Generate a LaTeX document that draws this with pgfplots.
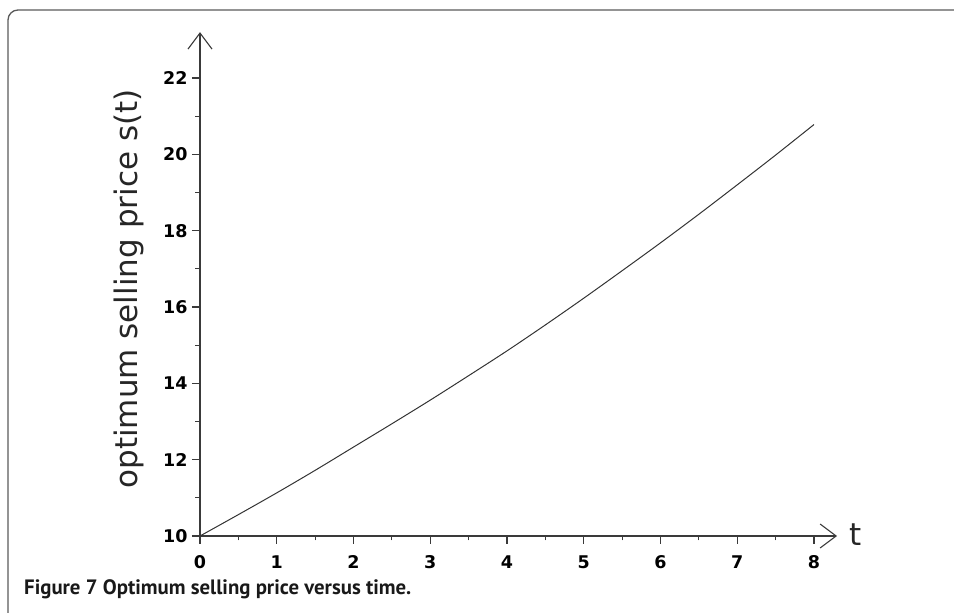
\documentclass[border=0pt]{standalone}
\usepackage{pgfplots}
\pgfplotsset{compat=1.18}
\usetikzlibrary{arrows.meta}
\usepackage{fontspec}
\setmainfont{DejaVu Sans}
\newfontfamily\tickfont{DejaVu Sans}
\newfontfamily\labelfont{DejaVu Sans}
\newfontfamily\capfont{PT Sans}
\definecolor{axisgray}{HTML}{3A3A3A}
\definecolor{framegray}{HTML}{5A5A5A}

% optimum selling price s(t) over time t
\pgfplotstableread{
t    s
0.0  10.00
0.5  10.56
1.0  11.13
1.5  11.72
2.0  12.33
2.5  12.94
3.0  13.56
3.5  14.20
4.0  14.85
4.5  15.53
5.0  16.23
5.5  16.95
6.0  17.68
6.5  18.43
7.0  19.20
7.5  19.98
8.0  20.78
}\pricedata

\begin{document}
\begin{tikzpicture}
\path[use as bounding box] (-200pt,-77pt) rectangle (754pt,536pt);
% surrounding frame with a rounded upper-left corner
\draw[framegray, line width=1.3pt, rounded corners=10pt]
  (-192pt,-80pt) -- (-192pt,526pt) -- (760pt,526pt);
\begin{axis}[
  at={(0,0)}, anchor=south west,
  x=76.75pt, y=38.17pt,
  xmin=0, xmax=8.3, ymin=10, ymax=23.2,
  axis lines=left,
  axis line style={axisgray, line width=1.3pt,
    -{Straight Barb[length=16pt,width=24pt,line width=1.1pt]}},
  xtick={0,1,...,8}, ytick={10,12,...,22},
  minor xtick={0.5,1.5,...,7.5}, minor ytick={11,13,...,21},
  tick align=outside,
  major tick length=8pt, minor tick length=4.5pt,
  every tick/.style={axisgray, line width=1.2pt},
  /pgf/number format/assume math mode=true,
  ticklabel style={font=\tickfont\bfseries\fontsize{17.5}{17.5}\selectfont, text=black},
  xticklabel style={yshift=-8pt},
  yticklabel style={xshift=-1pt},
  clip=false,
]
\addplot[black!80, line width=1pt, smooth] table[x=t, y=s] {\pricedata};
\end{axis}
\node[rotate=90, anchor=base, font=\labelfont\fontsize{31}{31}\selectfont, text=black!85]
  at (-62pt,247pt) {optimum selling price s(t)};
\node[anchor=base west, inner sep=0pt, font=\labelfont\fontsize{31}{31}\selectfont, text=black!85]
  at (649pt,-10pt) {t};
\node[anchor=base west, inner sep=0pt, font=\capfont\bfseries\fontsize{20.8}{20.8}\selectfont, text=black!90]
  at (-176pt,-59pt) {Figure 7 Optimum selling price versus time.};
\end{tikzpicture}
\end{document}
